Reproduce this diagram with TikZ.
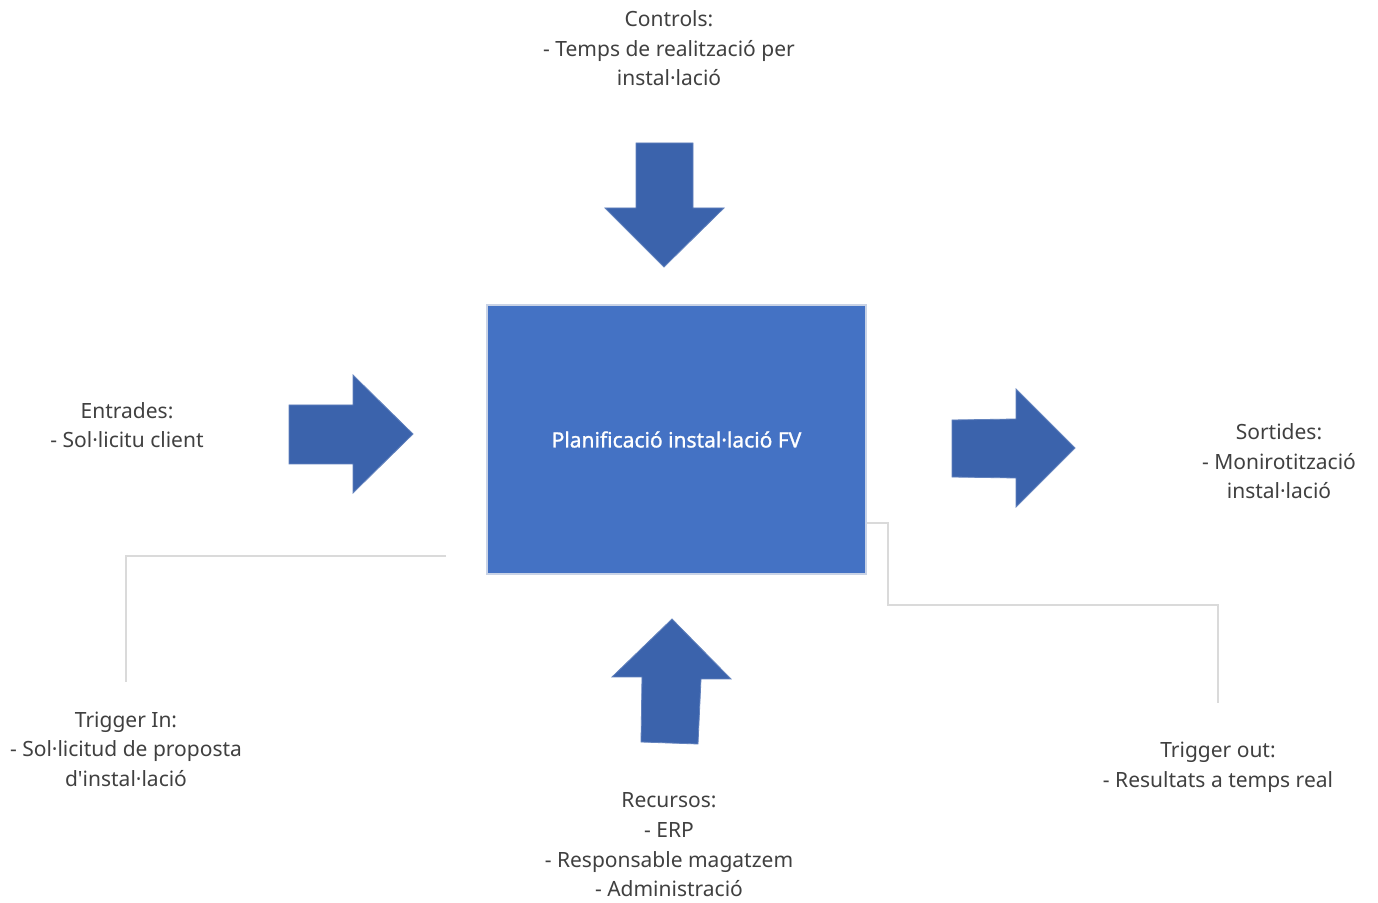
\documentclass[tikz,border=0pt]{standalone}
\usepackage{fontspec}
\setmainfont{Noto Sans}[Ligatures=TeXOff]
\newfontfamily\procfont{Noto Sans}[FakeBold=1.2]
\begin{document}
\definecolor{boxblue}{HTML}{4472C4}
\definecolor{arrowblue}{HTML}{3B63AC}
\definecolor{boxedge}{HTML}{C9D3E6}
\definecolor{linegray}{HTML}{DADADA}
\definecolor{txt}{HTML}{404040}
\begin{tikzpicture}[x=0.5pt,y=-0.5pt,
  lbl/.style={align=center,text=txt,font=\fontsize{10.5}{14.8}\selectfont,inner sep=0pt},
  fatarrow/.style={fill=arrowblue,draw=arrowblue!80!white,line width=0.4pt,line join=miter},
  guide/.style={draw=linegray,line width=1.1pt}]
\useasboundingbox (0,0) rectangle (1378,903);
\fill[white] (0,0) rectangle (1378,903);

% central process box
\node[draw=boxedge,fill=boxblue,line width=0.8pt,minimum width=189.5pt,minimum height=134.5pt,
      inner sep=0pt,text=white,font=\procfont\fontsize{10.5}{12}\selectfont] (proc) at (676.5,439.5)
      {Planificació instal·lació FV};

% block arrows
\filldraw[fatarrow] (636,143) -- (693,143) -- (693,208) -- (724,208) -- (664,267)
  -- (605,208) -- (636,208) -- cycle;
\filldraw[fatarrow] (289,405) -- (353,405) -- (353,375) -- (413,434) -- (353,493)
  -- (353,464) -- (289,464) -- cycle;
\filldraw[fatarrow] (952,420) -- (1016,419) -- (1016,389) -- (1075,448) -- (1016,507)
  -- (1016,478) -- (952,477) -- cycle;
\filldraw[fatarrow] (672,619) -- (731,679) -- (701,679) -- (698,744) -- (641,742)
  -- (642,677) -- (612,677) -- cycle;

% labels
\node[lbl] (ctrl) at (669,48.5) {Controls:\\- Temps de realització per\\instal·lació};
\node[lbl] (inp) at (127,425) {Entrades:\\- Sol·licitu client};
\node[lbl] (outp) at (1279,461.5) {Sortides:\\- Monirotització\\instal·lació};
\node[lbl] (trin) at (126,749) {Trigger In:\\- Sol·licitud de proposta\\d'instal·lació};
\node[lbl] (res) at (669,845) {Recursos:\\- ERP\\- Responsable magatzem\\- Administració};
\node[lbl] (trout) at (1218,767.5) {Trigger out:\\- Resultats a temps real};

% trigger guide lines
\coordinate (tinA) at (446,556);
\coordinate (tinB) at (126,682);
\draw[guide] (tinA) -| (tinB);
\coordinate (toutA) at (proc.east |- 0,523);
\coordinate (toutB) at (888,605);
\coordinate (toutC) at (1218,703);
\draw[guide] (toutA) -- (888,523) -- (toutB) -| (toutC);
\end{tikzpicture}
\end{document}
